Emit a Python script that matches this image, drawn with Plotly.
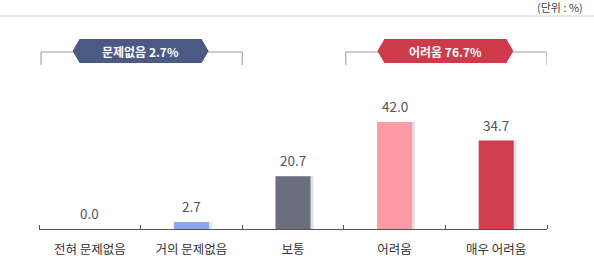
import plotly.graph_objects as go

categories = ["전혀 문제없음", "거의 문제없음", "보통", "어려움", "매우 어려움"]
values = [0.0, 2.7, 20.7, 42.0, 34.7]
bar_colors = ["#8fa6ee", "#8fa6ee", "#6b6e7c", "#fc9aa5", "#cf3f4e"]
group_labels = ["문제없음 2.7%", "어려움 76.7%"]
group_spans = [(-0.5, 1.5), (2.5, 4.5)]
group_colors = ["#4b5a84", "#cf3a4b"]
unit_text = "(단위 : %)"

FONT = "Noto Sans CJK KR"
x = list(range(len(categories)))

# plot geometry (pixels) for unit conversion of decorative shapes
L, R, T, B = 39, 47, 20, 41
W, H = 594 - L - R, 270 - T - B
YMAX = H / 2.55
px_x = (len(categories)) / W  # data units per pixel (x)
px_y = YMAX / H               # data units per pixel (y)

BW = 0.345
fig = go.Figure()
# shadow
fig.add_trace(go.Bar(x=x, y=values, width=BW, offset=-BW / 2 + 3 * px_x,
                     marker=dict(color="#e2e2e6", line_width=0),
                     hoverinfo="skip", showlegend=False))
fig.add_trace(go.Bar(x=x, y=values, width=BW, offset=-BW / 2,
                     marker=dict(color=bar_colors, line_width=0),
                     showlegend=False))

for xi, v in zip(x, values):
    fig.add_annotation(x=xi, y=v, text=f"{v:.1f}", showarrow=False,
                       yanchor="bottom", yshift=4,
                       font=dict(family=FONT, size=13.5, color="#555"))

# brackets and badges
by = (229 - 52) / 2.55
bbot = (229 - 65) / 2.55
for (x0, x1), lab, col in zip(group_spans, group_labels, group_colors):
    fig.add_shape(type="path",
                  path=f"M {x0+2*px_x},{bbot} L {x0+2*px_x},{by} L {x1},{by} L {x1},{bbot}",
                  line=dict(color="#9a9a9a", width=1), layer="below")
    cx = (x0 + x1) / 2
    hw = 68 * px_x
    tip = 7 * px_x
    hh = 12 * px_y
    yc = (229 - 51) / 2.55
    path = (f"M {cx-hw},{yc} L {cx-hw+tip},{yc+hh} L {cx+hw-tip},{yc+hh} "
            f"L {cx+hw},{yc} L {cx+hw-tip},{yc-hh} L {cx-hw+tip},{yc-hh} Z")
    fig.add_shape(type="path", path=path, fillcolor=col, line_width=0)
    fig.add_annotation(x=cx, y=yc, text=f"<b>{lab}</b>", showarrow=False,
                       font=dict(family=FONT, size=12, color="white"))

# top line and unit
fig.add_shape(type="line", xref="paper", yref="paper",
              x0=-L / W, x1=(594 - L) / W,
              y0=(229 - 16) / H, y1=(229 - 16) / H,
              line=dict(color="#d0d0d0", width=1))
fig.add_annotation(xref="paper", yref="paper", x=(585 - L) / W, y=(229 - 7) / H,
                   xanchor="right", yanchor="middle", text=unit_text, showarrow=False,
                   font=dict(family=FONT, size=11, color="#444"))

fig.update_layout(
    width=594, height=270, margin=dict(l=L, r=R, t=T, b=B),
    paper_bgcolor="white", plot_bgcolor="white", barmode="overlay",
    font=dict(family=FONT),
    xaxis=dict(range=[-0.5, 4.5], tickvals=x, ticktext=categories, ticks="",
               showline=True, linecolor="#555", linewidth=1, showgrid=False,
               zeroline=False, ticklabelstandoff=9,
               tickfont=dict(family=FONT, size=12.5, color="#333"),
               minor=dict(tick0=-0.5, dtick=1, ticks="inside", ticklen=4,
                          tickcolor="#555", showgrid=False)),
    yaxis=dict(range=[0, YMAX], visible=False, fixedrange=True),
)
fig.write_html("out.html")
